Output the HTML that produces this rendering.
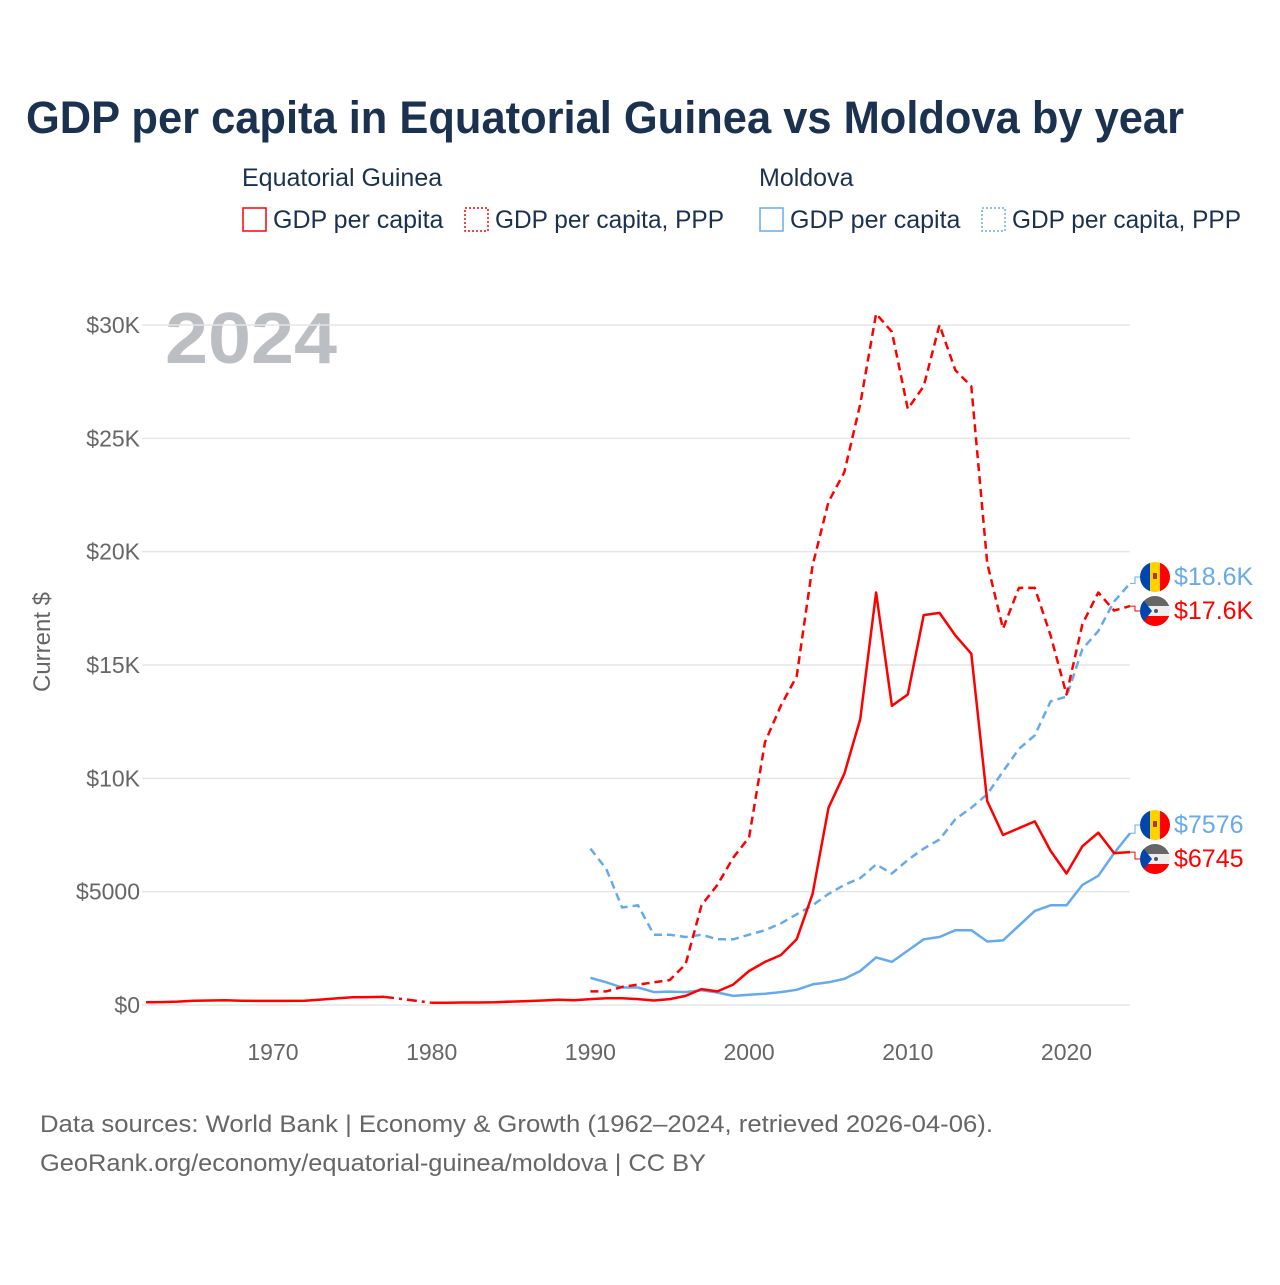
<!DOCTYPE html>
<html><head><meta charset="utf-8">
<style>
body{margin:0;background:#fff;font-family:"Liberation Sans",sans-serif;}
svg text{font-family:"Liberation Sans",sans-serif;}
</style></head>
<body>
<svg id="chart" width="1280" height="1280" viewBox="0 0 1280 1280" xmlns="http://www.w3.org/2000/svg">
<defs>
<clipPath id="c1"><circle cx="1155" cy="577" r="15"/></clipPath>
<clipPath id="c2"><circle cx="1155" cy="611" r="15"/></clipPath>
<clipPath id="c3"><circle cx="1155" cy="825" r="15"/></clipPath>
<clipPath id="c4"><circle cx="1155" cy="859" r="15"/></clipPath>
</defs>
<text x="26" y="133" font-size="45" font-weight="bold" fill="#1b3150" textLength="1158" lengthAdjust="spacingAndGlyphs">GDP per capita in Equatorial Guinea vs Moldova by year</text>
<g font-size="25" fill="#1b3150">
<text x="242" y="186">Equatorial Guinea</text>
<text x="759" y="186">Moldova</text>
<g><rect x="243" y="208" width="23" height="23" fill="none" stroke="#ff0000" stroke-width="1.5"/><text x="273" y="228">GDP per capita</text></g>
<g><rect x="465" y="208" width="23" height="23" fill="none" stroke="#ff0000" stroke-width="1.5" stroke-dasharray="2,2"/><text x="495" y="228" textLength="229" lengthAdjust="spacingAndGlyphs">GDP per capita, PPP</text></g>
<g><rect x="760" y="208" width="23" height="23" fill="none" stroke="#66aaee" stroke-width="1.5"/><text x="790" y="228">GDP per capita</text></g>
<g><rect x="982" y="208" width="23" height="23" fill="none" stroke="#66aaee" stroke-width="1.5" stroke-dasharray="2,2"/><text x="1012" y="228" textLength="229" lengthAdjust="spacingAndGlyphs">GDP per capita, PPP</text></g>
</g>
<text x="165" y="363" font-size="72" font-weight="bold" fill="#bbbec3" textLength="172" lengthAdjust="spacingAndGlyphs">2024</text>
<text transform="translate(50,642) rotate(-90)" text-anchor="middle" font-size="24" fill="#666">Current $</text>
<g id="grid"></g><g id="yticks"></g><g id="xticks"></g><g id="series"></g>
<g>
<g clip-path="url(#c1)"><rect x="1140" y="562" width="10" height="30" fill="#0046ae"/><rect x="1150" y="562" width="10" height="30" fill="#ffd200"/><rect x="1160" y="562" width="10" height="30" fill="#ff0000"/><rect x="1153" y="573" width="4" height="6" fill="#b03a2e"/></g>
<g clip-path="url(#c2)"><rect x="1140" y="596" width="30" height="10" fill="#666"/><rect x="1140" y="606" width="30" height="10" fill="#eee"/><rect x="1140" y="616" width="30" height="10" fill="#ff0000"/><polygon points="1140,596 1152,611 1140,626" fill="#0046ae"/><circle cx="1156" cy="611" r="2" fill="#555"/></g>
<g clip-path="url(#c3)"><rect x="1140" y="810" width="10" height="30" fill="#0046ae"/><rect x="1150" y="810" width="10" height="30" fill="#ffd200"/><rect x="1160" y="810" width="10" height="30" fill="#ff0000"/><rect x="1153" y="821" width="4" height="6" fill="#b03a2e"/></g>
<g clip-path="url(#c4)"><rect x="1140" y="844" width="30" height="10" fill="#666"/><rect x="1140" y="854" width="30" height="10" fill="#eee"/><rect x="1140" y="864" width="30" height="10" fill="#ff0000"/><polygon points="1140,844 1152,859 1140,874" fill="#0046ae"/><circle cx="1156" cy="859" r="2" fill="#555"/></g>
<text x="1174" y="585" font-size="25" fill="#66aaee">$18.6K</text>
<text x="1174" y="619" font-size="25" fill="#ff0000">$17.6K</text>
<text x="1174" y="833" font-size="25" fill="#66aaee">$7576</text>
<text x="1174" y="867" font-size="25" fill="#ff0000">$6745</text>
</g>
<text x="40" y="1132" font-size="24" fill="#666" textLength="953" lengthAdjust="spacingAndGlyphs">Data sources: World Bank | Economy &amp; Growth (1962–2024, retrieved 2026-04-06).</text>
<text x="40" y="1171" font-size="24" fill="#666" textLength="666" lengthAdjust="spacingAndGlyphs">GeoRank.org/economy/equatorial-guinea/moldova | CC BY</text>
</svg>
<script>
const yTicks = [0, 5000, 10000, 15000, 20000, 25000, 30000];
const yTickLabels = ["$0", "$5000", "$10K", "$15K", "$20K", "$25K", "$30K"];
const xTicks = [1970, 1980, 1990, 2000, 2010, 2020];
const yearsEarly = [1962,1963,1964,1965,1966,1967,1968,1969,1970,1971,1972,1973,1974,1975,1976,1977,1978,1979,1980,1981,1982,1983,1984,1985,1986,1987,1988,1989];
const egGdpEarly = [120,130,150,190,200,210,190,180,180,180,190,240,290,340,350,360,null,null,100,100,110,110,120,150,170,200,230,210];
const years = [1990,1991,1992,1993,1994,1995,1996,1997,1998,1999,2000,2001,2002,2003,2004,2005,2006,2007,2008,2009,2010,2011,2012,2013,2014,2015,2016,2017,2018,2019,2020,2021,2022,2023,2024];
const egGdp = [260,300,300,260,200,260,400,700,600,900,1500,1900,2200,2900,4900,8700,10200,12600,18200,13200,13700,17200,17300,16300,15500,9000,7500,7800,8100,6800,5800,7000,7600,6700,6745];
const egPpp = [600,600,800,900,1000,1100,1800,4400,5300,6500,7400,11600,13200,14500,19400,22200,23500,26500,30500,29700,26300,27300,30000,28000,27300,19500,16600,18400,18400,16300,13700,16800,18200,17400,17600];
const mdGdp = [1200,1000,770,770,570,590,570,650,550,400,450,500,570,670,910,1000,1150,1500,2100,1900,2400,2900,3000,3300,3300,2800,2850,3500,4150,4400,4400,5300,5700,6700,7576];
const mdPpp = [6900,6000,4300,4400,3100,3100,3000,3100,2900,2900,3100,3300,3600,4000,4400,4900,5300,5600,6200,5800,6400,6900,7300,8200,8700,9300,10300,11300,11900,13400,13600,15700,16500,17800,18600];

const NS = "http://www.w3.org/2000/svg";
const X0 = 146, X1 = 1130, Y0 = 1005, Y1 = 325;
const xs = y => X0 + (y - 1962) * (X1 - X0) / (2024 - 1962);
const ys = v => Y0 - v * (Y0 - Y1) / 30000;
function mk(tag, attrs, parent){const e=document.createElementNS(NS,tag);for(const k in attrs)e.setAttribute(k,attrs[k]);parent.appendChild(e);return e;}
const grid=document.getElementById('grid'), yt=document.getElementById('yticks'), xt=document.getElementById('xticks'), ser=document.getElementById('series');
yTicks.forEach((v,i)=>{
  const l=mk('line',{x1:142,x2:X1,y1:ys(v),y2:ys(v),stroke:'#e6e6e6','stroke-width':1.5},grid);
  
  
  const t=mk('text',{x:140,y:ys(v)+8,'text-anchor':'end','font-size':23,fill:'#666'},yt);
  
  
  t.textContent=yTickLabels[i];
});
xTicks.forEach(y=>{
  const t=mk('text',{x:xs(y),y:1060,'text-anchor':'middle','font-size':23,fill:'#666'},xt);
  
  
  t.textContent=y;
});
function path(yrs, vals, color, dash, name, endY){
  let d='', pen=false;
  yrs.forEach((y,i)=>{const v=vals[i]; if(v==null){pen=false;return;} d+=(pen?'L':'M')+xs(y).toFixed(1)+','+ys(v).toFixed(1); pen=true;});
  const p=mk('path',{d:d,fill:'none',stroke:color,'stroke-width':2.5,'stroke-linejoin':'round'},ser);
  if(dash) p.setAttribute('stroke-dasharray',dash);
  
  
  if(endY!=null){
    const lv=vals[vals.length-1], lx=xs(yrs[yrs.length-1]);
    const c=mk('path',{d:`M${lx},${ys(lv)}L${lx+5},${ys(lv)}L${lx+5},${endY}L1140,${endY}`,fill:'none',stroke:color,'stroke-width':1},ser);
    
    
  }
}
(function(){
  const i1=yearsEarly.indexOf(1977), i2=yearsEarly.indexOf(1980);
  const g=mk('path',{d:`M${xs(1977)},${ys(egGdpEarly[i1])}L${xs(1980)},${ys(egGdpEarly[i2])}`,fill:'none',stroke:'#ff0000','stroke-width':2.5,'stroke-dasharray':'10,5,3,5'},ser);
  
  
})();
path(yearsEarly.concat([1990]), egGdpEarly.concat([egGdp[0]]), '#ff0000', null, 'eg-gdp-early-line', null);
path(years, mdPpp, '#66aaee', '8,5', 'moldova-ppp-line', 577);
path(years, mdGdp, '#66aaee', null, 'moldova-gdp-line', 825);
path(years, egPpp, '#ff0000', '8,5', 'eg-ppp-line', 611);
path(years, egGdp, '#ff0000', null, 'eg-gdp-line', 859);
</script>
</body></html>
